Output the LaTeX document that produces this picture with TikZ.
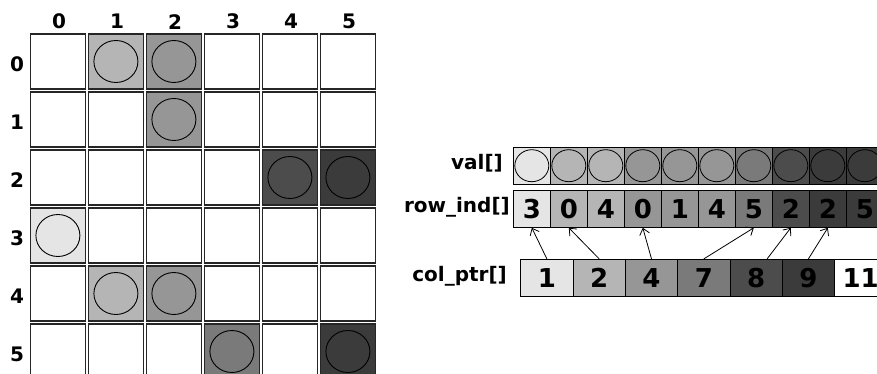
\documentclass[tikz,border=0pt]{standalone}
\usepackage{fontspec}
\setmainfont{DejaVu Sans}
\usepackage{xcolor}
\usetikzlibrary{shapes.geometric, arrows.meta}

\definecolor{vA}{gray}{0.90}
\definecolor{vB}{gray}{0.71}
\definecolor{vC}{gray}{0.59}
\definecolor{vD}{gray}{0.48}
\definecolor{vE}{gray}{0.30}
\definecolor{vF}{gray}{0.23}

\tikzset{
  cell/.style={draw=black!85, line width=1.7pt, minimum width=55pt, minimum height=55pt, inner sep=0pt},
  nz/.style={ellipse, draw=black, line width=0.9pt, minimum width=44pt, minimum height=42pt, inner sep=0pt},
  nzs/.style={ellipse, draw=black, line width=0.8pt, minimum width=34pt, minimum height=32pt, inner sep=0pt},
  slot/.style={draw=black, line width=0.9pt, minimum width=37pt, minimum height=36.7pt, inner sep=0pt, font=\bfseries\fontsize{26}{28}\selectfont},
  ptrbox/.style={slot, minimum width=52.3pt},
  idx/.style={font=\bfseries\fontsize{20}{22}\selectfont, inner sep=0pt},
  arrlabel/.style={font=\bfseries\fontsize{20}{22}\selectfont, inner sep=0pt, anchor=east},
  pointer/.style={-{Straight Barb[length=6pt, width=10pt]}, line width=0.8pt}
}

\begin{document}
\begin{tikzpicture}[x=1pt, y=-1pt]
				\clip (0,0) rectangle (877,374);
				
				% Draw matrix
				\foreach \r/\cols in {0/{white,vB,vC,white,white,white},
				                      1/{white,white,vC,white,white,white},
				                      2/{white,white,white,white,vE,vF},
				                      3/{vA,white,white,white,white,white},
				                      4/{white,vB,vC,white,white,white},
				                      5/{white,white,white,vD,white,vF}} {
					\foreach \f [count=\c from 0] in \cols
						\node[cell, fill=\f] (m-\r-\c) at ({57.9+58*\c},{61.5+58*\r}) {};
				}
				\foreach \r/\c in {0/1,0/2,1/2,2/4,2/5,3/0,4/1,4/2,5/3,5/5}
					\node[nz] (e-\r-\c) at (m-\r-\c) {};
				
				% Indices
				\foreach \c in {0,...,5}
					\node[idx] (ci-\c) at ({59+58*\c},21.7) {\c};
				\foreach \r in {0,...,5}
					\node[idx] (ri-\r) at (17,{64+58*\r}) {\r};
				
				% Arrays
				\foreach \f [count=\i from 0] in {vA,vB,vB,vC,vC,vC,vD,vE,vF,vF} {
					\node[slot, fill=\f] (val-\i) at ({531.8+37*\i},165.7) {};
					\node[nzs] (ve-\i) at (val-\i) {};
				}
				\foreach \f/\v [count=\i from 0] in {vA/3,vB/0,vB/4,vC/0,vC/1,vC/4,vD/5,vE/2,vF/2,vF/5}
					\node[slot, fill=\f] (row-\i) at ({531.8+37*\i},209) {\v};
				\foreach \f/\v [count=\i from 0] in {vA/1,vB/2,vC/4,vD/7,vE/8,vF/9,white/11}
					\node[ptrbox, fill=\f] (ptr-\i) at ({546.9+52.3*\i},277.7) {\v};
				
				\node[arrlabel] (lval) at (503,163) {val[]};
				\node[arrlabel] (lrow) at (510,207) {row\_ind[]};
				\node[arrlabel] (lptr) at (507,276) {col\_ptr[]};
				
				% Pointers
				\foreach \a/\b in {0/0,1/1,2/3,3/6,5/8}
					\draw[pointer] (ptr-\a.north) -- (row-\b.south);
				\draw[pointer] ([xshift=11pt]ptr-4.north) -- (row-7.south);
			\end{tikzpicture}
\end{document}
